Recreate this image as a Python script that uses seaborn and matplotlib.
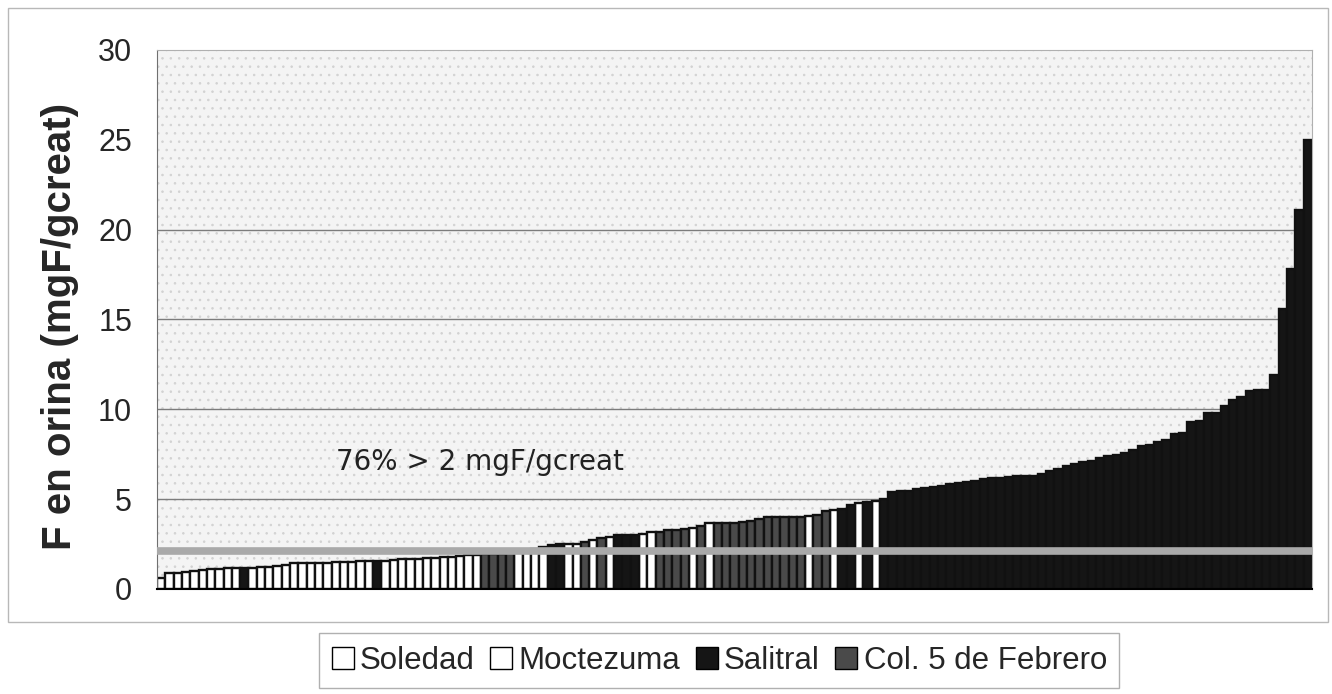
# Fluor en orina por nino, ordenado de menor a mayor, coloreado por comunidad

import pandas as pd
import seaborn as sns
import matplotlib.pyplot as plt
from matplotlib.patches import Patch, Rectangle

# Valores (mgF/gcreat), ya ordenados
fluor = [0.6, 0.88, 0.9, 0.95, 1.0, 1.05, 1.1, 1.12, 1.15, 1.15,
         1.15, 1.18, 1.2, 1.25, 1.3, 1.35, 1.42, 1.42, 1.43, 1.44,
         1.45, 1.5, 1.5, 1.52, 1.54, 1.54, 1.54, 1.55, 1.6, 1.65,
         1.65, 1.68, 1.73, 1.75, 1.78, 1.8, 1.85, 1.88, 1.9, 1.92,
         1.95, 1.97, 2.0, 2.05, 2.1, 2.2, 2.35, 2.45, 2.5, 2.5,
         2.5, 2.64, 2.7, 2.85, 2.88, 3.0, 3.03, 3.03, 3.05, 3.2,
         3.2, 3.28, 3.3, 3.35, 3.4, 3.5, 3.68, 3.7, 3.7, 3.7,
         3.72, 3.8, 3.92, 4.0, 4.0, 4.0, 4.0, 4.02, 4.09, 4.13,
         4.35, 4.37, 4.46, 4.65, 4.8, 4.83, 4.87, 5.0, 5.39, 5.43,
         5.48, 5.55, 5.62, 5.68, 5.75, 5.85, 5.9, 5.95, 6.0, 6.1,
         6.15, 6.2, 6.25, 6.28, 6.3, 6.3, 6.42, 6.57, 6.66, 6.84,
         6.93, 7.08, 7.15, 7.3, 7.39, 7.48, 7.55, 7.75, 7.95, 8.0,
         8.2, 8.3, 8.6, 8.7, 9.29, 9.35, 9.78, 9.8, 10.2, 10.5,
         10.7, 11.0, 11.05, 11.1, 11.9, 15.6, 17.8, 21.1, 25.0]

# Comunidad de cada barra: S=Soledad, M=Moctezuma, L=Salitral, C=Col. 5 de Febrero
codigos = list("SSSSSSSSSSLSSSSSSSSSSSSSSSLMMMMMMMMMMMMCCCCSSSSLLMMCMCMLLLMMCCCCMCM"
               "CCCCCCCCCCCMCCMLLMLM"
               "LLLLLLLLLLLLLLLLLLLLLLLLLLLLLLLLLLLLLLLLLLLLLLLLLLLL")

nombres = {'S': 'Soledad', 'M': 'Moctezuma', 'L': 'Salitral', 'C': 'Col. 5 de Febrero'}
comunidades = ['Soledad', 'Moctezuma', 'Salitral', 'Col. 5 de Febrero']
colores = ['#ffffff', '#ffffff', '#151515', '#4a4a4a']
limite = 2.1
yticks = [0, 5, 10, 15, 20, 25, 30]
lineas = [5, 10, 15, 20]

df = pd.DataFrame({'nino': range(len(fluor)),
                   'F': fluor,
                   'Comunidad': [nombres[c] for c in codigos]})

sns.set_style('white')
plt.rcParams['font.family'] = ['Liberation Sans', 'DejaVu Sans']
plt.rcParams['hatch.linewidth'] = 0.6

fig = plt.figure(figsize=(13.32, 6.94), dpi=100)
ax = fig.add_axes([0.1179, 0.1513, 0.8671, 0.7767])

# fondo gris punteado
ax.set_facecolor('#f4f4f4')
ax.add_patch(Rectangle((0, 0), 1, 1, transform=ax.transAxes, facecolor='none',
                       edgecolor='#d2d2d2', hatch='..', lw=0, zorder=0))
for y in lineas:
    ax.axhline(y, color='#7c7c7c', lw=1, zorder=0.5)

sns.barplot(data=df, x='nino', y='F', hue='Comunidad', hue_order=comunidades,
            palette=dict(zip(comunidades, colores)), dodge=False, width=1,
            edgecolor='#111111', linewidth=1.7, legend=False, ax=ax)

# linea de referencia 2 mgF/gcreat
ax.axhline(limite, color='#a9a9a9', lw=5.5, zorder=3)
ax.text(21.0, 7.07, '76% > 2 mgF/gcreat', fontsize=20, family='DejaVu Sans',
        va='center', ha='left', color='#222222')

ax.set_xlim(-0.5, len(fluor) - 0.5)
ax.set_ylim(0, 30)
ax.set_yticks(yticks)
ax.set_xticks([])
ax.set_xlabel('')
ax.set_ylabel('')
ax.tick_params(axis='y', length=10, width=1, color='#707070', labelsize=22, pad=8)

for lado in ['top', 'right']:
    ax.spines[lado].set_color('#b0b0b0')
ax.spines['left'].set_color('#707070')
ax.spines['bottom'].set_color('black')
ax.spines['bottom'].set_linewidth(1.5)

fig.text(0.045, 1 - 326 / 694, 'F en orina (mgF/gcreat)', rotation=90,
         fontsize=29, fontweight='bold', ha='center', va='center')

# leyenda
handles = [Patch(facecolor=c, edgecolor='black', label=n) for n, c in zip(comunidades, colores)]
fig.legend(handles=handles, loc='center', bbox_to_anchor=(0.54, 0.0476), ncol=4,
           fontsize=22.5, frameon=True, fancybox=False, edgecolor='#b0b0b0',
           framealpha=1, handlelength=0.7, handleheight=0.7, handletextpad=0.2,
           columnspacing=0.5, borderpad=0.4)

# marco exterior
fig.add_artist(Rectangle((8 / 1332, 1 - 622 / 694), 1320 / 1332, 614 / 694,
                         transform=fig.transFigure, fill=False,
                         edgecolor='#b8b8b8', lw=1))

fig.savefig('out.png', dpi=100)
print("Grafico guardado en out.png")
